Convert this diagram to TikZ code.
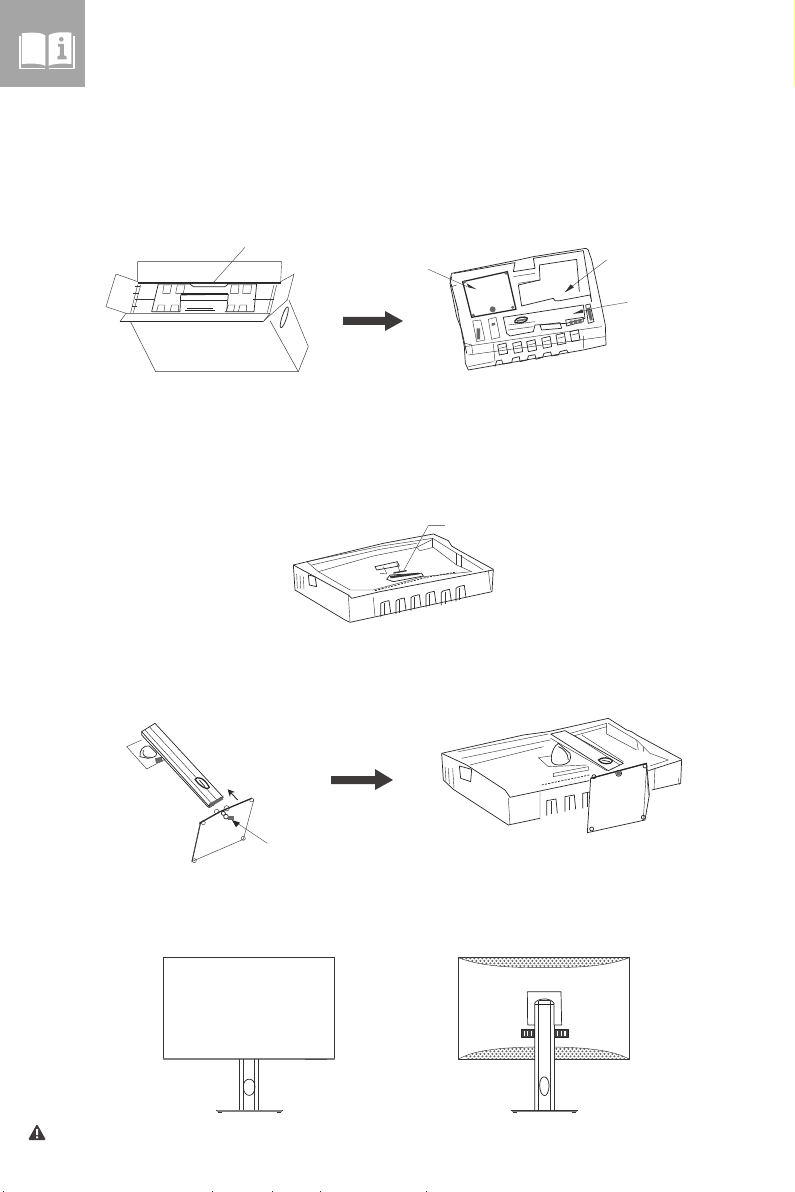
\documentclass[tikz,border=0pt]{standalone}
\usepackage{tikz}
\usetikzlibrary{calc,backgrounds,arrows.meta}
\definecolor{headgray}{HTML}{A6A5A5}
\definecolor{arrowgray}{HTML}{3E3A39}
\definecolor{foamgray}{HTML}{6A6A6A}
\definecolor{edgeyellow}{HTML}{FFFF99}
\tikzset{
  thin line/.style = {line width = 0.12pt, color = black!80},
  mid line/.style = {line width = 0.2pt, color = black!85},
  bold line/.style = {line width = 0.36pt, color = black!85},
  leader/.style = {line width = 0.1pt, color = black!80},
  big arrow/.style = {fill = arrowgray, draw = none},
  small arrow/.style = {line width = 0.25pt, color = black!85, -{Stealth[length=2pt,width=2pt]}},
}
\begin{document}
\begin{tikzpicture}[x = 0.01cm, y = -0.01cm, line join = round]
\useasboundingbox (0,0) rectangle (795,1192);
% header
\fill[headgray] (0,0) rectangle (85,87);
\begin{scope}[shift = {(0,0)}, scale = 0.3333]
\fill[white] (66,100) .. controls (100,96) and (125,98) .. (136,106) -- (136,198) .. controls (125,190) and (90,190) .. (66,192) -- cycle;
\fill[white] (146,106) .. controls (160,96) and (190,96) .. (214,98) -- (214,192) .. controls (190,190) and (160,190) .. (146,198) -- cycle;
\draw[white, line width = 0.3pt] (60,108) -- (60,205) -- (135,205) (147,205) -- (222,205) -- (222,108);
\fill[headgray] (184,118) circle (7);
\fill[headgray] (174,132) -- (192,132) -- (192,166) -- (200,170) -- (200,178) -- (172,178) -- (172,170) -- (180,166) -- (180,140) -- (174,140) -- cycle;
\end{scope}
\draw[edgeyellow, line width = 0.3pt] (794.5,0) -- (794.5,86);
% open carton
\begin{scope}[shift = {(90,230)}, scale = 0.3333]
\draw[leader] (143,155) -- (143,95) -- (575,95) -- (572,155);
\draw[mid line] (143,157) -- (572,157);
\draw[thin line] (143,161) -- (572,161);
\draw[thin line] (143,155) -- (78,132) -- (48,230) -- (108,250);
\draw[thin line] (572,155) -- (612,133) -- (592,210) -- (522,272);
\draw[thin line] (90,275) -- (108,250) -- (540,250) -- (520,275) -- cycle;
\draw[mid line] (90,275) -- (520,275);
\draw[thin line] (122,276) -- (197,425) -- (625,425) -- (655,350) -- (597,210);
\draw[thin line] (540,272) -- (625,425);
\draw[mid line, rotate around = {-18:(583,262)}] (583,262) ellipse (7 and 33);
\draw[thin line] (135,207) -- (195,207) (490,207) -- (552,207);
\draw[thin line] (143,165) -- (122,248) (152,165) -- (130,248);
\draw[thin line] (560,165) -- (540,248) (552,165) -- (532,248);
\draw[thin line] (135,170) -- (150,170) (130,190) -- (146,190) (125,230) -- (140,230);
\draw[mid line] (205,162) -- (300,162) -- (310,170) -- (405,170) -- (415,162) -- (500,162) -- (492,245) -- (405,245);
\draw[mid line] (205,162) -- (185,245) -- (270,245) -- (272,195) -- (415,193) -- (410,245);
\draw[thin line] (222,165) -- (245,165) -- (240,190) -- (218,190) -- cycle (262,165) -- (285,165) -- (280,190) -- (257,190) -- cycle;
\draw[thin line] (425,165) -- (447,165) -- (445,190) -- (420,190) -- cycle (460,165) -- (485,165) -- (482,190) -- (458,190) -- cycle;
\draw[bold line] (272,192) -- (415,192);
\draw[thin line] (200,245) -- (205,225) -- (225,225) -- (222,245) (240,245) -- (245,225) -- (265,225) -- (265,245);
\draw[thin line] (408,245) -- (415,225) -- (435,225) -- (430,245) (445,245) -- (450,225) -- (470,225) -- (470,245);
\draw[mid line] (285,241) -- (375,241) (272,212) -- (412,212) (290,236) -- (370,236);
\draw[leader] (465,52) -- (368,160);
\end{scope}
% arrow 1
\fill[big arrow] (343,317) -- (385,317) -- (385,311) -- (403,321) -- (385,331) -- (385,325) -- (343,325) -- cycle;
% foam with parts
\begin{scope}[shift = {(420,230)}, scale = 0.3333]
\draw[mid line] (95,130) -- (285,92) -- (340,80) -- (498,55) -- (505,60) -- (508,70) -- (515,90) -- (528,150) -- (545,230) -- (556,285) -- (558,345) -- (490,360) -- (145,420) -- (136,400) -- (133,350) -- (110,225) -- (90,150) -- cycle;
\draw[mid line] (102,130) -- (285,98) -- (280,125) -- (345,115) -- (340,85) -- (490,62) -- (515,215) -- (510,195) -- (420,212) -- (405,212) -- (400,205) -- (305,228) -- (295,165) -- (360,150) -- (358,105) -- (470,88) -- (478,185);
\draw[bold line] (128,155) -- (262,125) -- (288,238) -- (155,262) -- cycle;
\draw[thin line] (280,140) -- (345,130) (295,160) -- (360,150);
\draw[mid line] (250,262) -- (490,225) -- (495,265) -- (440,280) -- (345,285) -- (340,305) -- (270,318) -- (260,310) -- cycle;
\draw[mid line] (360,285) -- (420,278) -- (425,295) -- (365,300) -- cycle;
\draw[thin line] (265,285) -- (345,275) (265,300) -- (340,290);
\draw[bold line, fill = white] (285,272) .. controls (290,262) and (315,258) .. (322,264) .. controls (325,275) and (300,282) .. (285,278) -- cycle;
\draw[foamgray, line width = 0.5pt] (290,273) -- (318,268);
\draw[mid line] (437,270) -- (490,262) -- (490,275) -- (440,288) -- cycle;
\fill[foamgray] (450,272) rectangle (458,284) (462,270) rectangle (472,282) (475,268) rectangle (485,280);
\draw[mid line] (497,225) -- (510,222) -- (522,275) -- (505,280) -- cycle;
\fill[foamgray] (500,235) -- (510,232) -- (518,270) -- (510,272) -- cycle;
\draw[thin line] (158,273) -- (182,270) -- (195,330) -- (170,335) -- cycle (205,268) -- (228,262) -- (240,322) -- (215,328) -- cycle;
\fill[foamgray] (170,295) rectangle (180,328) (215,280) -- (225,278) -- (225,285) -- (215,288) -- cycle;
\fill[foamgray] (218,238) circle (9);
\foreach \hx/\hy in {134/156, 258/130, 160/256, 278/232} {
  \fill[foamgray] (\hx,\hy) circle (5);
}
\draw[thin line] (133,350) -- (545,290) (145,375) -- (555,320);
\draw[thin line] (220,342) -- (225,395) (490,318) -- (490,355);
\foreach \ox/\oy in {233/345, 278/340, 320/335, 365/325, 408/315, 450/305} {
  \draw[mid line] (\ox,\oy) -- (\ox+25,\oy-6) -- (\ox+30,\oy+25) -- (\ox+5,\oy+30) -- cycle;
  \draw[thin line] (\ox+6,\oy+10) -- (\ox+26,\oy+5);
}
\draw[mid line] (225,410) -- (230,393) -- (245,390) -- (248,402) -- (275,398) -- (278,385) -- (298,380) -- (300,395) -- (322,390) -- (325,378) -- (345,374) -- (348,388) -- (368,382) -- (372,370) -- (392,366) -- (395,378) -- (415,375) -- (420,365) -- (440,360) -- (445,370);
\draw[thin line] (95,170) -- (110,165) (105,210) -- (115,240) (135,340) -- (155,345) -- (158,370) (145,410) -- (220,395);
\draw[mid line] (95,140) -- (90,160) -- (110,260) -- (125,300) -- (140,370);
\draw[leader] (25,118) -- (142,170);
\fill[black!80] (170,178) -- (140,160) -- (145,172) -- cycle;
\draw[leader] (560,90) -- (435,185);
\fill[black!80] (435,187) -- (462,172) -- (452,163) -- cycle;
\draw[leader] (622,217) -- (545,230) -- (470,248);
\fill[black!80] (458,252) -- (490,248) -- (487,238) -- cycle;
\end{scope}
% foam with monitor, back
\begin{scope}[shift = {(280,510)}, scale = 0.3333]
\draw[mid line] (40,165) -- (310,100) -- (460,72) -- (505,92) -- (515,108) -- (535,120) -- (640,178) -- (636,245) -- (210,337) -- (195,330) -- (45,240) -- cycle;
\draw[mid line] (40,165) -- (205,255) -- (215,265) -- (300,245) -- (640,180);
\draw[thin line] (80,155) -- (305,108) -- (458,85) -- (530,130) -- (610,180);
\draw[thin line] (80,155) -- (115,185) -- (280,138) -- (410,112) -- (458,88);
\draw[thin line] (95,165) -- (300,118) -- (410,100);
\draw[thin line] (410,112) -- (420,122) -- (460,112) -- (530,165) -- (575,185);
\draw[thin line] (458,85) -- (458,112) (530,130) -- (530,165) (545,135) -- (545,172);
\draw[thin line] (115,185) -- (210,240) -- (280,240) -- (430,200) -- (575,185);
\draw[mid line, dashed, dash pattern = on 0.6pt off 0.35pt] (285,242) -- (440,202) -- (530,186);
\draw[thin line] (50,192) -- (52,235) (60,197) -- (62,235) (70,200) -- (72,238);
\draw[mid line] (85,195) -- (105,200) -- (110,230) -- (88,225) -- cycle;
\draw[thin line] (205,255) -- (210,335) (280,262) -- (285,320) (625,180) -- (632,240);
\foreach \ox/\oy in {302/276, 348/268, 393/258, 438/248, 484/242, 528/230} {
  \draw[mid line] (\ox,\oy+44) -- (\ox,\oy+5) .. controls (\ox+3,\oy) and (\ox+20,\oy-3) .. (\ox+25,\oy-4) -- (\ox+30,\oy+32);
  \draw[thin line] (\ox+11,\oy+40) -- (\ox+11,\oy+3);
}
\draw[thin line] (300,190) -- (320,192) (310,170) -- (320,190) (350,160) -- (360,185);
\draw[mid line] (285,170) -- (352,155) -- (358,168) -- (290,180) -- cycle;
\draw[mid line] (320,208) -- (330,195) -- (425,190) -- (430,198) -- (340,215) -- cycle;
\fill[black!80] (330,198) -- (415,188) -- (418,193) -- (332,205) -- cycle (340,187) -- (380,180) -- (380,184) -- (340,191) -- cycle;
\draw[leader] (495,47) -- (445,47) -- (372,180);
\end{scope}
% stand and base plate
\begin{scope}[shift = {(110,700)}, scale = 0.3333]
\draw[thin line] (95,120) -- (50,140) -- (110,207) -- (170,175);
\draw[mid line] (90,170) .. controls (88,150) and (100,135) .. (118,138) -- (140,160) .. controls (145,170) and (115,180) .. (100,172) -- cycle;
\draw[mid line] (100,150) .. controls (95,165) and (105,175) .. (125,172);
\fill[foamgray] (135,175) -- (155,170) -- (158,185) -- (138,190) -- cycle;
\draw[mid line, fill = white] (95,95) -- (135,70) -- (340,292) -- (300,322) -- cycle;
\draw[thin line] (105,90) -- (312,318) (118,80) -- (325,305);
\draw[mid line] (95,95) -- (95,105) -- (295,322) -- (300,322);
\draw[bold line] (295,318) -- (335,292);
\fill[foamgray] (298,310) -- (335,292) -- (340,298) -- (302,320) -- cycle;
\draw[bold line, fill = white] (255,238) .. controls (262,228) and (282,232) .. (298,262) .. controls (295,272) and (272,262) .. (255,238) -- cycle;
\draw[mid line] (268,240) -- (285,260);
\draw[small arrow] (383,300) -- (353,268);
\draw[bold line] (268,370) -- (330,335) -- (425,295);
\draw[thin line] (270,370) -- (245,485) -- (400,418) -- (432,298);
\draw[mid line] (272,368) -- (247,482);
\foreach \mx/\my in {425/300, 280/368, 253/482, 400/415} {
  \draw[thin line] (\mx,\my) circle (6);
}
\draw[thin line] (320,335) circle (7) (350,325) circle (8);
\draw[mid line] (340,340) circle (6) (348,350) circle (7);
\fill[foamgray] (355,348) rectangle (372,360);
\draw[leader] (472,430) -- (375,365);
\fill[black!85] (366,360) -- (390,368) -- (378,382) -- cycle;
\end{scope}
% arrow 2
\fill[big arrow] (331,776) -- (375,776) -- (375,769) -- (393,780) -- (375,790) -- (375,784) -- (331,784) -- cycle;
% foam with stand and plate
\begin{scope}[shift = {(430,710)}, scale = 0.3333]
\draw[mid line] (35,130) -- (280,75) -- (355,65) -- (535,25) -- (590,60) -- (605,65) -- (620,75) -- (755,148) -- (752,220) -- (665,240);
\draw[mid line] (35,130) -- (40,210) -- (70,238) -- (235,345) -- (330,325);
\draw[mid line] (35,130) -- (110,165) -- (225,240) -- (240,262) -- (330,243) (478,212) -- (330,243);
\draw[mid line] (655,182) -- (755,150);
\draw[thin line] (85,125) -- (355,72) (95,145) -- (360,90) (120,165) -- (340,110);
\draw[thin line] (535,40) -- (620,90) -- (660,130) -- (715,150) -- (660,168);
\draw[thin line] (420,70) -- (530,40) (430,78) -- (530,50) (530,40) -- (530,72) -- (620,120);
\draw[thin line] (45,170) -- (48,215) (55,175) -- (58,222) (68,175) -- (72,235);
\draw[mid line] (88,168) -- (125,178) -- (122,215) -- (92,205) -- cycle;
\draw[thin line] (235,265) -- (240,345) (330,245) -- (330,325) (620,90) -- (625,120) (640,110) -- (640,125) (675,172) -- (672,240) (745,205) -- (748,225);
\foreach \ox/\oy in {350/272, 405/260, 458/250} {
  \draw[mid line] (\ox,\oy+45) -- (\ox,\oy) -- (\ox+28,\oy-5) -- (\ox+32,\oy+38);
  \draw[thin line] (\ox+14,\oy+40) -- (\ox+14,\oy);
}
\draw[thin line] (325,143) -- (420,130) (370,190) -- (475,170) -- (477,180) -- (370,200) -- cycle (325,143) -- (355,170) -- (470,165);
\draw[mid line, dashed, dash pattern = on 0.6pt off 0.35pt] (335,225) -- (478,195);
\draw[mid line, fill = white] (365,155) .. controls (360,130) and (375,105) .. (385,100) -- (420,130) .. controls (425,150) and (420,160) .. (395,165) .. controls (380,165) and (370,165) .. (365,155) -- cycle;
\draw[mid line] (385,110) .. controls (400,115) and (415,130) .. (415,150);
\draw[mid line, fill = white] (362,72) -- (405,62) -- (580,160) -- (535,182) -- cycle;
\draw[thin line] (362,85) -- (530,182) (435,78) -- (570,165) (455,75) -- (580,155);
\draw[bold line, fill = white] (505,150) .. controls (515,140) and (540,142) .. (548,152) .. controls (545,165) and (515,165) .. (505,150) -- cycle;
\draw[mid line] (515,150) -- (540,155);
\draw[mid line, fill = white] (482,205) -- (650,160) -- (658,255) -- (645,330) -- (472,368) -- cycle;
\draw[bold line] (482,205) -- (650,160);
\draw[thin line] (650,165) -- (640,330) (650,170) -- (655,255);
\foreach \mx/\my in {492/200, 645/168, 640/322, 485/357} {
  \draw[mid line] (\mx,\my) circle (6);
}
\draw[mid line] (566,190) circle (9);
\draw[foamgray, line width = 0.5pt] (566,190) circle (5);
\end{scope}
% monitor front
\begin{scope}[shift = {(150,945)}, scale = 0.3333]
\draw[black!80, line width = 0.3pt] (40,38) rectangle (554,342);
\draw[black!50, line width = 0.45pt] (40,342) -- (554,342);
\fill[black!70] (465,341) rectangle (530,345);
\draw[thin line] (268,342) -- (268,496) (281,342) -- (281,496) (313,342) -- (313,496) (326,342) -- (326,496);
\draw[mid line] (280,425) .. controls (280,395) and (315,395) .. (315,425) .. controls (315,460) and (280,460) .. (280,425) -- cycle;
\draw[thin line] (198,496) -- (398,496);
\draw[black!50, line width = 0.45pt] (200,498) -- (396,498);
\draw[thin line] (205,503) -- (215,503) (380,503) -- (392,503);
\end{scope}
% monitor back
\begin{scope}[shift = {(445,945)}, scale = 0.3333]
\draw[black!80, line width = 0.3pt] (40,38) rectangle (554,343);
\begin{scope}
\clip (40,38) -- (554,38) .. controls (480,65) and (400,68) .. (297,68) .. controls (200,68) and (110,65) .. (40,38) -- cycle;
\foreach \i in {0,...,43} {
  \foreach \j in {0,1,2,3} {
    \draw[black!65, line width = 0.15pt] (40+\i*12+\j*6,40+\j*7.5) circle (2.2);
  }
}
\end{scope}
\begin{scope}
\clip (40,343) -- (554,343) .. controls (500,312) and (400,306) .. (297,306) .. controls (190,306) and (90,312) .. (40,343) -- cycle;
\foreach \i in {0,...,43} {
  \foreach \j in {0,1,2,3,4,5} {
    \draw[black!65, line width = 0.15pt] (40+\i*12+\j*6,304+\j*7.5) circle (2.2);
  }
}
\end{scope}
\draw[thin line] (40,38) .. controls (110,65) and (200,68) .. (297,68) .. controls (400,68) and (480,65) .. (554,38);
\draw[thin line] (40,343) .. controls (90,312) and (190,306) .. (297,306) .. controls (400,306) and (500,312) .. (554,343);
\draw[mid line] (247,140) -- (348,140) -- (350,240) -- (325,240) (272,240) -- (248,240) -- (247,140);
\draw[mid line, fill = black!75] (228,252) -- (268,252) -- (268,278) -- (228,278) -- cycle;
\draw[mid line, fill = black!75] (328,252) -- (370,252) -- (370,278) -- (328,278) -- cycle;
\foreach \bx in {236,246,258,336,347,358} {
  \fill[white] (\bx,258) rectangle (\bx+4,272);
}
\fill[white] (269,158) rectangle (327,500);
\draw[mid line] (269,498) -- (269,175) .. controls (275,160) and (315,155) .. (327,175) -- (327,240);
\draw[thin line] (327,240) -- (327,498) (316,168) -- (316,498);
\draw[mid line] (281,168) -- (281,498);
\draw[mid line] (269,178) -- (327,178);
\draw[thin line] (281,165) -- (316,165);
\draw[mid line, fill = white] (284,420) .. controls (284,385) and (312,390) .. (312,420) .. controls (312,465) and (284,460) .. (284,420) -- cycle;
\draw[thin line] (198,497) -- (398,497);
\draw[black!50, line width = 0.45pt] (200,499) -- (396,499);
\draw[thin line] (205,503) -- (215,503) (380,503) -- (392,503);
\end{scope}
% warning sign
\fill[arrowgray, rounded corners = 0.4pt] (37,1124) -- (46,1140) -- (28,1140) -- cycle;
\fill[white] (36,1129) rectangle (38,1135) (36,1136.3) rectangle (38,1138.3);
% edge marks
\foreach \sx in {3,212,272,320,426} {
  \fill[black!80] (\sx,1191) rectangle (\sx+1,1192);
}
\end{tikzpicture}
\end{document}
